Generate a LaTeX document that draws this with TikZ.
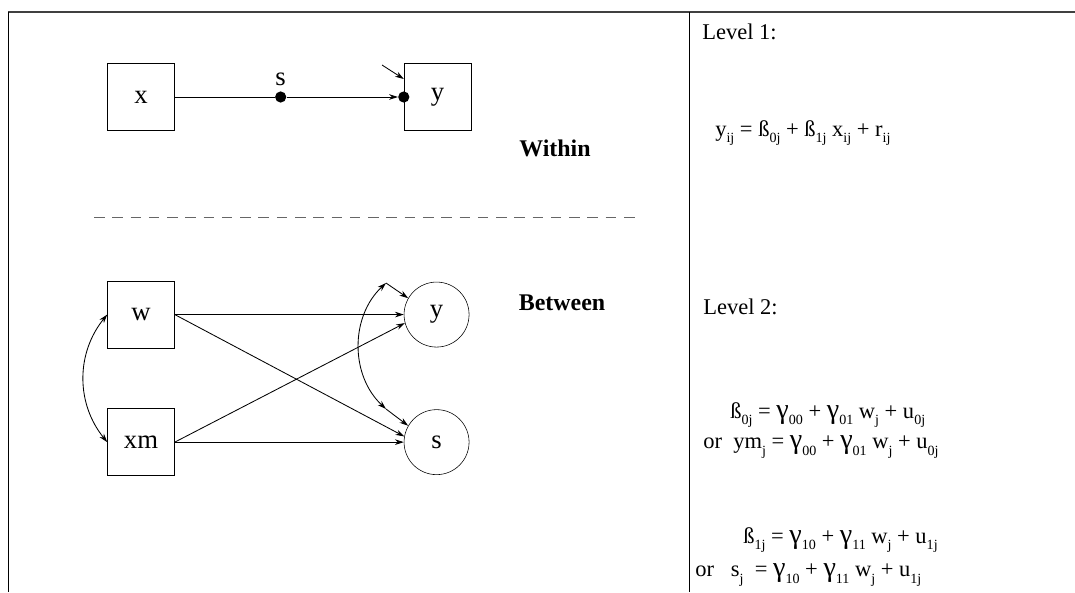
\documentclass[tikz,border=0pt]{standalone}
\usepackage{fontspec}
\setmainfont{Liberation Serif}
\usetikzlibrary{arrows.meta, positioning}

\newcommand{\dsub}[1]{\raisebox{-0.65ex}{\fontsize{10}{10}\selectfont #1}}
\newcommand{\gam}{{\fontsize{20}{20}\selectfont γ}}

\begin{document}
\begin{tikzpicture}[
  x=0.25mm, y=-0.25mm,
  varbox/.style={draw, minimum size=16.75mm, inner sep=0pt, font=\fontsize{19}{22}\selectfont},
  latent/.style={draw, circle, minimum size=16.25mm, inner sep=0pt, font=\fontsize{19}{22}\selectfont},
  dot/.style={circle, fill, inner sep=0pt, minimum size=2.8mm},
  arrow/.style={-{Stealth[length=2.2mm, width=1.4mm]}, line width=0.6pt},
  biarrow/.style={{Stealth[length=2.2mm, width=1.4mm]}-{Stealth[length=2.2mm, width=1.4mm]}, line width=0.6pt},
  panel/.style={font=\fontsize{17}{20}\selectfont\bfseries},
  eqn/.style={anchor=west, inner sep=0pt, font=\fontsize{16}{19}\selectfont}
]
\useasboundingbox (0,0) rectangle (1075,592);
% frame
\draw[line width=0.8pt, black!75] (8,12) -- (1075,12);
\draw[line width=0.7pt] (8,12) -- (8,592);
\draw[line width=0.7pt] (689,12) -- (689,592);

% within
\node[varbox] (x) at (141,97) {x};
\node[varbox, right=57.25mm of x] (ybox) {y};
\node[dot, right=25mm of x] (sdot) {};
\node[dot] (ydot) at (ybox.west) {};
\node[above=0.8mm of sdot, inner sep=1pt, font=\fontsize{19}{22}\selectfont] (slab) {s};
\coordinate (yres) at (382,65);
\node[panel] (within) at (555,148) {Within};

\draw[line width=0.6pt] (x) -- (sdot);
\draw[arrow] (sdot) -- (ydot);
\draw[arrow] (yres) -- ([yshift=4.5mm]ybox.west);

\draw[dash pattern=on 7.5pt off 5.5pt, black!60, line width=0.6pt] (94,217) -- (640,217);

% between
\node[varbox, below=37.5mm of x] (w) {w};
\node[varbox, below=15mm of w] (xm) {xm};
\node[latent, right=57.25mm of w] (ycirc) {y};
\node[latent, right=57.25mm of xm] (scirc) {s};
\coordinate (ry) at (386,283);
\coordinate (rs) at (386,409);
\node[panel] (between) at (562,303) {Between};

\draw[arrow] (w) -- (ycirc);
\draw[arrow] (w.east) -- (scirc.170);
\draw[arrow] (xm.east) -- (ycirc.195);
\draw[arrow] (xm) -- (scirc);
\draw[biarrow] (w.west) to[bend right=39] (xm.west);
\draw[biarrow] (ry) to[bend right=47] (rs);
\draw[arrow] (ry) -- (ycirc.150);
\draw[arrow] (rs) -- (scirc.150);

% equations
\node[eqn] (lev1) at (702,32) {Level 1:};
\node[eqn] (eq1) at (715,133) {y\dsub{ij} = ß\dsub{0j} + ß\dsub{1j} x\dsub{ij} + r\dsub{ij}};
\node[eqn] (lev2) at (703,307) {Level 2:};
\node[eqn] (eqb0) at (730,415) {ß\dsub{0j} = \gam\dsub{00} + \gam\dsub{01} w\dsub{j} + u\dsub{0j}};
\node[eqn] (eqym) at (703,447) {or~ ym\dsub{j} = \gam\dsub{00} + \gam\dsub{01} w\dsub{j} + u\dsub{0j}};
\node[eqn] (eqb1) at (743,540) {ß\dsub{1j} = \gam\dsub{10} + \gam\dsub{11} w\dsub{j} + u\dsub{1j}};
\node[eqn] (eqs) at (695,575) {or~~ s\dsub{j}~ = \gam\dsub{10} + \gam\dsub{11} w\dsub{j} + u\dsub{1j}};
\end{tikzpicture}
\end{document}
